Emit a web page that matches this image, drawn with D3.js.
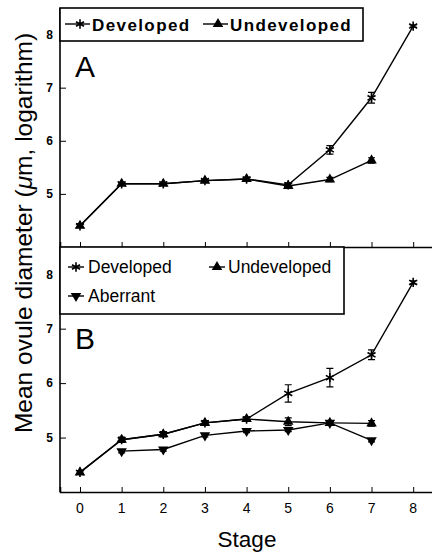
<!DOCTYPE html>
<html>
<head>
<meta charset="utf-8">
<script src="https://cdn.jsdelivr.net/npm/d3@7"></script>
<style>
  body { margin: 0; background: #fff; }
  svg { display: block; font-family: "Liberation Sans", Arial, sans-serif; }
</style>
</head>
<body>
<svg id="chart" width="432" height="554"></svg>
<script>
const stages = [0, 1, 2, 3, 4, 5, 6, 7, 8];
const yTicks = [5, 6, 7, 8];

// panel A
const devA = [4.40, 5.19, 5.19, 5.25, 5.28, 5.17, 5.83, 6.81, 8.16];
const devAErr = [0.03, 0.02, 0.02, 0.02, 0.03, 0.04, 0.08, 0.10, 0.02];
const undA = [4.40, 5.19, 5.19, 5.25, 5.28, 5.15, 5.27, 5.63];
const undAErr = [0.03, 0.02, 0.02, 0.02, 0.03, 0.04, 0.04, 0.05];

// panel B
const devB = [4.36, 4.96, 5.06, 5.27, 5.34, 5.81, 6.10, 6.52, 7.85];
const devBErr = [0.03, 0.05, 0.05, 0.04, 0.04, 0.16, 0.17, 0.09, 0.03];
const undB = [4.36, 4.96, 5.06, 5.27, 5.34, 5.29, 5.27, 5.26];
const undBErr = [0.03, 0.04, 0.04, 0.03, 0.03, 0.07, 0.04, 0.05];
const abB = [null, 4.75, 4.78, 5.04, 5.12, 5.14, 5.27, 4.95];
const abBErr = [null, 0.03, 0.03, 0.03, 0.03, 0.03, 0.03, 0.03];

const svg = d3.select("#chart");

const x = d3.scaleLinear().domain([-0.48, 8.5]).range([60, 434]);

const markers = {
  dev: d3.symbol().type(d3.symbolAsterisk).size(60),
  und: d3.symbol().type(d3.symbolTriangle).size(48),
  ab: d3.symbol().type(d3.symbolTriangle).size(48)
};

function drawMarker(g, kind, cx, cy) {
  const p = g.append("path")
    .attr("d", markers[kind]())
    .attr("transform", `translate(${cx},${cy})` + (kind === "ab" ? " rotate(180)" : ""));
  if (kind === "dev") p.attr("fill", "none").attr("stroke", "#000").attr("stroke-width", 1.6);
  else p.attr("fill", "#000");
}

function drawSeries(g, y, vals, errs, kind) {
  const pts = vals.map((v, i) => ({ s: stages[i], v, e: errs[i] })).filter(d => d.v != null);
  g.append("path")
    .datum(pts)
    .attr("fill", "none")
    .attr("stroke", "#000")
    .attr("stroke-width", 1.4)
    .attr("d", d3.line().x(d => x(d.s)).y(d => y(d.v)));
  pts.forEach(d => {
    const top = y(d.v + d.e), bot = y(d.v - d.e), cx = x(d.s);
    g.append("path")
      .attr("d", `M${cx},${top}V${bot}M${cx - 3.5},${top}H${cx + 3.5}M${cx - 3.5},${bot}H${cx + 3.5}`)
      .attr("stroke", "#000").attr("stroke-width", 1.2).attr("fill", "none");
    drawMarker(g, kind, cx, y(d.v));
  });
}

function drawPanel(top, bottom, series, label, labelY) {
  const y = d3.scaleLinear().domain([4, 8.5]).range([bottom, top]);
  const g = svg.append("g");

  g.append("g")
    .attr("transform", `translate(0,${bottom})`)
    .call(d3.axisBottom(x).tickValues(stages).tickSize(-5).tickFormat(""))
    .call(a => a.select(".domain").attr("stroke-width", 1.6));

  g.append("g")
    .attr("transform", "translate(60,0)")
    .call(d3.axisLeft(y).tickValues(yTicks).tickSize(-6).tickPadding(7).tickFormat(d3.format("d")))
    .call(a => a.select(".domain").attr("d", `M0,${top}V${bottom}`).attr("stroke-width", 1.6))
    .call(a => a.selectAll("text").attr("font-size", 12).attr("font-weight", "bold")
      .attr("font-family", "Liberation Sans, Arial, sans-serif"));

  series.forEach(s => drawSeries(g, y, s.vals, s.errs, s.kind));

  g.append("text")
    .attr("x", 75).attr("y", labelY)
    .attr("font-size", 30)
    .text(label);
  return g;
}

// Panel A
const gA = drawPanel(8, 247, [
  { vals: devA, errs: devAErr, kind: "dev" },
  { vals: undA, errs: undAErr, kind: "und" }
], "A", 77);

// Panel B
const gB = drawPanel(247, 492, [
  { vals: devB, errs: devBErr, kind: "dev" },
  { vals: undB, errs: undBErr, kind: "und" },
  { vals: abB, errs: abBErr, kind: "ab" }
], "B", 349);

// legend A
const legA = svg.append("g");
legA.append("rect").attr("x", 60).attr("y", 8).attr("width", 303).attr("height", 33)
  .attr("fill", "#fff").attr("stroke", "#000").attr("stroke-width", 1.6);
[
  { kind: "dev", lx: 65, mx: 80, tx: 92, name: "Developed" },
  { kind: "und", lx: 203, mx: 218, tx: 230, name: "Undeveloped" }
].forEach(d => {
  legA.append("line").attr("x1", d.lx).attr("x2", d.lx + 25).attr("y1", 24).attr("y2", 24)
    .attr("stroke", "#000").attr("stroke-width", 1.4);
  drawMarker(legA, d.kind, d.mx, 24);
  legA.append("text").attr("x", d.tx).attr("y", 31)
    .attr("font-size", 17).attr("font-weight", "bold").attr("letter-spacing", 1.4)
    .text(d.name);
});

// legend B
const legB = svg.append("g");
legB.append("rect").attr("x", 60).attr("y", 247).attr("width", 284).attr("height", 67)
  .attr("fill", "#fff").attr("stroke", "#000").attr("stroke-width", 1.6);
[
  { kind: "dev", lx: 68, mx: 76, tx: 88, ty: 273, name: "Developed" },
  { kind: "und", lx: 209, mx: 217, tx: 228, ty: 273, name: "Undeveloped" },
  { kind: "ab", lx: 68, mx: 76, tx: 88, ty: 302, name: "Aberrant" }
].forEach(d => {
  const cy = d.ty - 6;
  legB.append("line").attr("x1", d.lx).attr("x2", d.lx + 16).attr("y1", cy).attr("y2", cy)
    .attr("stroke", "#000").attr("stroke-width", 1.4);
  drawMarker(legB, d.kind, d.mx, cy);
  legB.append("text").attr("x", d.tx).attr("y", d.ty)
    .attr("font-size", 17.5)
    .text(d.name);
});

// x tick labels
svg.append("g").selectAll("text")
  .data(stages)
  .join("text")
  .attr("x", d => x(d))
  .attr("y", 513)
  .attr("text-anchor", "middle")
  .attr("font-size", 14)
  .text(d => d);

svg.append("text")
  .attr("x", 247).attr("y", 547)
  .attr("text-anchor", "middle")
  .attr("font-size", 22.5)
  .text("Stage");

svg.append("text")
  .attr("transform", "translate(32,233) rotate(-90)")
  .attr("text-anchor", "middle")
  .attr("font-size", 24.5)
  .html('Mean ovule diameter (<tspan font-style="italic">μ</tspan>m, logarithm)');
</script>
</body>
</html>
